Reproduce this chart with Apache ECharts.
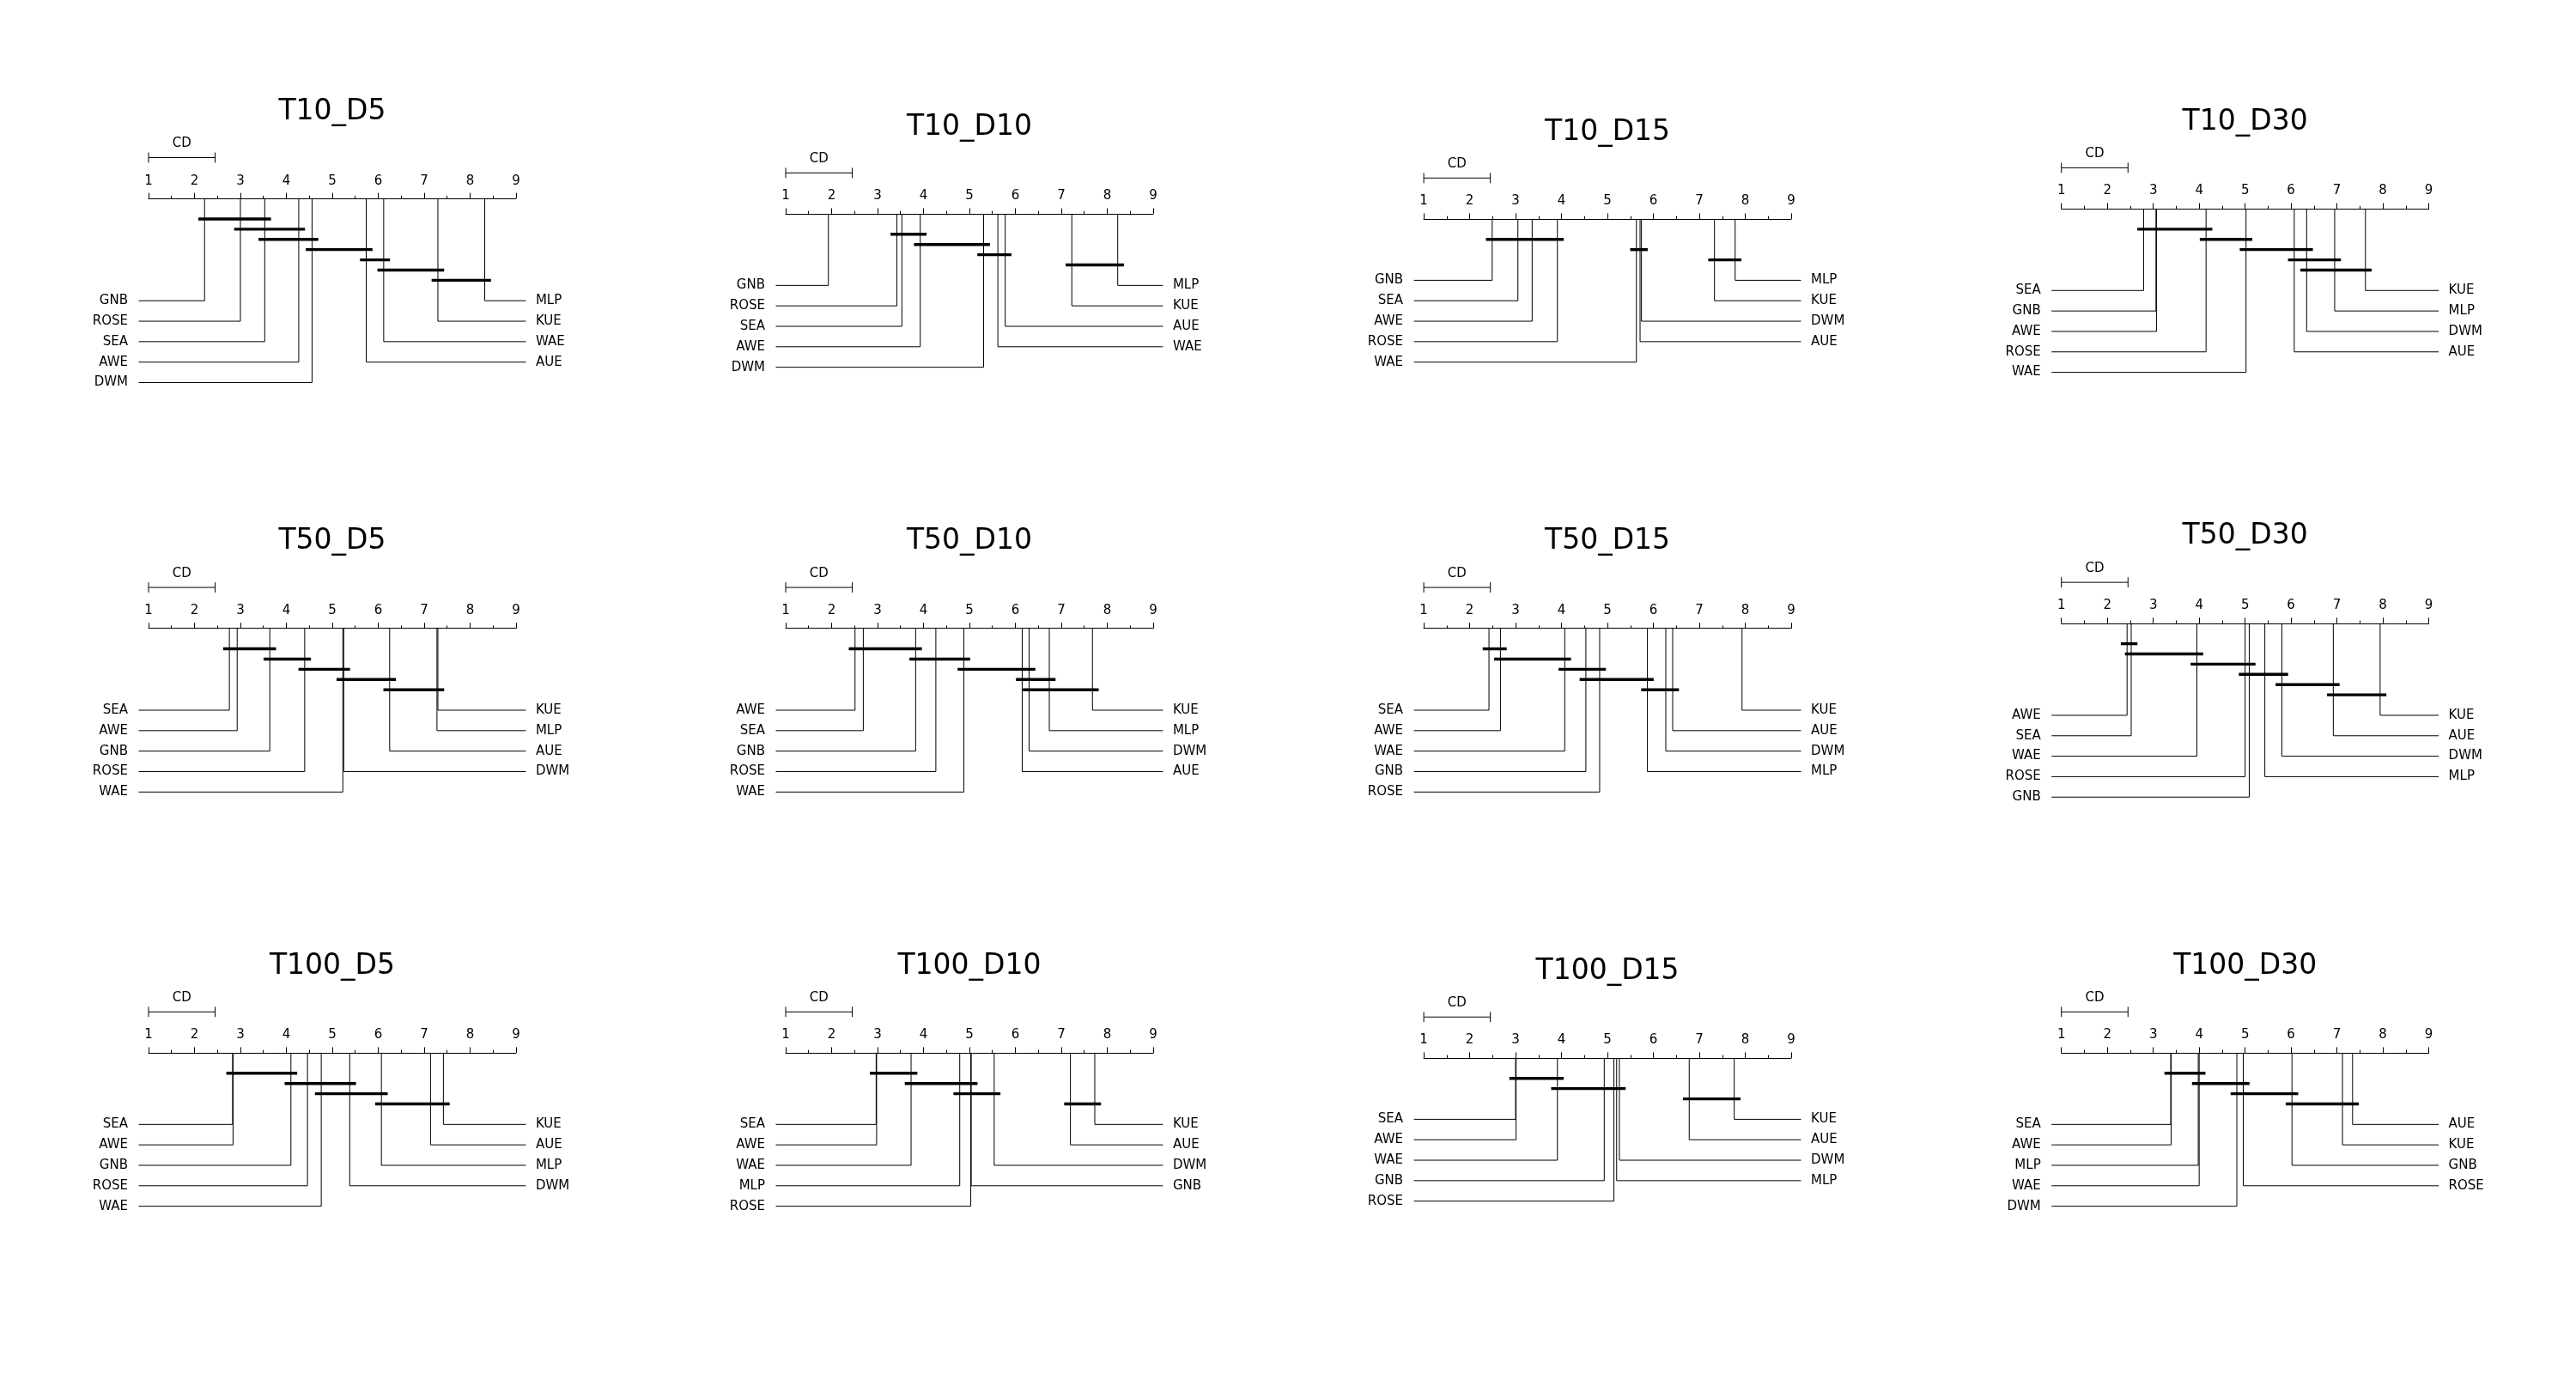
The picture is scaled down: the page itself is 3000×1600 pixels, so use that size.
<!DOCTYPE html>
<html>
<head>
<meta charset="utf-8">
<script src="https://cdn.jsdelivr.net/npm/echarts@6/dist/echarts.min.js"></script>
<style>
html,body{margin:0;padding:0;background:#ffffff;}
#chart{width:3000px;height:1600px;}
</style>
</head>
<body>
<div id="chart"></div>
<script>
// ---------- DATA ----------
const methods = ['AUE', 'AWE', 'DWM', 'GNB', 'KUE', 'MLP', 'ROSE', 'SEA', 'WAE'];
const panelTitles = ['T10_D5', 'T10_D10', 'T10_D15', 'T10_D30',
                     'T50_D5', 'T50_D10', 'T50_D15', 'T50_D30',
                     'T100_D5', 'T100_D10', 'T100_D15', 'T100_D30'];
const rankTicks = [1, 2, 3, 4, 5, 6, 7, 8, 9];
const criticalDifference = 1.45;

// average ranks, in the order of `methods`
const ranks_T10_D5   = [5.74, 4.27, 4.56, 2.22, 7.30, 8.32, 3.00, 3.53, 6.12];
const ranks_T10_D10  = [5.78, 3.93, 5.31, 1.93, 7.23, 8.23, 3.42, 3.53, 5.62];
const ranks_T10_D15  = [5.71, 3.36, 5.74, 2.49, 7.33, 7.78, 3.91, 3.05, 5.63];
const ranks_T10_D30  = [6.07, 3.07, 6.34, 3.06, 7.62, 6.95, 4.15, 2.79, 5.02];
const ranks_T50_D5   = [6.25, 2.93, 5.25, 3.64, 7.30, 7.28, 4.40, 2.76, 5.23];
const ranks_T50_D10  = [6.15, 2.51, 6.30, 3.83, 7.68, 6.74, 4.27, 2.69, 4.88];
const ranks_T50_D15  = [6.42, 2.67, 6.27, 4.53, 7.93, 5.87, 4.83, 2.42, 4.07];
const ranks_T50_D30  = [6.92, 2.43, 5.80, 5.09, 7.94, 5.43, 5.00, 2.52, 3.95];
const ranks_T100_D5  = [7.14, 2.84, 5.38, 4.10, 7.42, 6.07, 4.46, 2.83, 4.76];
const ranks_T100_D10 = [7.20, 2.98, 5.54, 5.04, 7.73, 4.79, 5.03, 2.97, 3.73];
const ranks_T100_D15 = [6.78, 3.01, 5.26, 4.93, 7.76, 5.20, 5.14, 3.00, 3.91];
const ranks_T100_D30 = [7.34, 3.39, 4.82, 6.02, 7.12, 3.98, 4.96, 3.38, 4.00];

// groups of methods not significantly different (from method, to method)
const cliques_T10_D5   = [['GNB','SEA'], ['ROSE','AWE'], ['SEA','DWM'], ['DWM','AUE'], ['AUE','WAE'], ['WAE','KUE'], ['KUE','MLP']];
const cliques_T10_D10  = [['ROSE','AWE'], ['AWE','DWM'], ['DWM','AUE'], ['KUE','MLP']];
const cliques_T10_D15  = [['GNB','ROSE'], ['WAE','DWM'], ['KUE','MLP']];
const cliques_T10_D30  = [['SEA','ROSE'], ['ROSE','WAE'], ['WAE','DWM'], ['AUE','MLP'], ['DWM','KUE']];
const cliques_T50_D5   = [['SEA','GNB'], ['GNB','ROSE'], ['ROSE','DWM'], ['WAE','AUE'], ['AUE','KUE']];
const cliques_T50_D10  = [['AWE','GNB'], ['GNB','WAE'], ['WAE','DWM'], ['AUE','MLP'], ['DWM','KUE']];
const cliques_T50_D15  = [['SEA','AWE'], ['AWE','WAE'], ['WAE','ROSE'], ['GNB','MLP'], ['MLP','AUE']];
const cliques_T50_D30  = [['AWE','SEA'], ['SEA','WAE'], ['WAE','GNB'], ['ROSE','DWM'], ['DWM','AUE'], ['AUE','KUE']];
const cliques_T100_D5  = [['SEA','GNB'], ['GNB','DWM'], ['WAE','MLP'], ['MLP','KUE']];
const cliques_T100_D10 = [['SEA','WAE'], ['WAE','GNB'], ['MLP','DWM'], ['AUE','KUE']];
const cliques_T100_D15 = [['SEA','WAE'], ['WAE','DWM'], ['AUE','KUE']];
const cliques_T100_D30 = [['SEA','WAE'], ['MLP','ROSE'], ['DWM','GNB'], ['GNB','AUE']];

const allRanks = [ranks_T10_D5, ranks_T10_D10, ranks_T10_D15, ranks_T10_D30,
                  ranks_T50_D5, ranks_T50_D10, ranks_T50_D15, ranks_T50_D30,
                  ranks_T100_D5, ranks_T100_D10, ranks_T100_D15, ranks_T100_D30];
const allCliques = [cliques_T10_D5, cliques_T10_D10, cliques_T10_D15, cliques_T10_D30,
                    cliques_T50_D5, cliques_T50_D10, cliques_T50_D15, cliques_T50_D30,
                    cliques_T100_D5, cliques_T100_D10, cliques_T100_D15, cliques_T100_D30];

// ---------- LAYOUT ----------
const colLeft = [173.0, 915.0, 1658.1, 2400.7];
const axisWidth = 427.9;
const rowCenter = [272.8, 761.5, 1249.8];
const UNIT = 119.1;           // pixels per vertical layout unit
const FONT = '"DejaVu Sans", "Liberation Sans", sans-serif';

const grids = [], xAxes = [], yAxes = [], titles = [], series = [];

panelTitles.forEach(function (title, p) {
  const r = Math.floor(p / 4), c = p % 4;
  const ranks = allRanks[p];
  const cliques = allCliques[p];
  const nLines = cliques.length;
  const axisY = rowCenter[r] - UNIT * 0.05 * nLines;
  const rowStart = Math.max(0.4, 0.4 + (nLines - 1) * 0.1);

  grids.push({left: colLeft[c], top: axisY, width: axisWidth, height: UNIT, containLabel: false});
  xAxes.push({
    gridIndex: p, type: 'value', position: 'top',
    min: rankTicks[0], max: rankTicks[rankTicks.length - 1], interval: 1,
    axisLine: {show: true, onZero: false, lineStyle: {color: '#000', width: 1}},
    axisTick: {show: true, length: 6.5, lineStyle: {color: '#000', width: 1}},
    minorTick: {show: true, splitNumber: 2, length: 3.3, lineStyle: {color: '#000', width: 1}},
    axisLabel: {margin: 13, color: '#000', fontSize: 15, fontFamily: FONT},
    splitLine: {show: false}, minorSplitLine: {show: false}
  });
  yAxes.push({gridIndex: p, type: 'value', min: 0, max: 1, inverse: true, show: false});

  const axisCenter = colLeft[c] + axisWidth / 2;
  titles.push({
    text: title, left: axisCenter, top: axisY - 101,
    textAlign: 'center', textVerticalAlign: 'middle', padding: 0,
    textStyle: {fontSize: 33, fontWeight: 'normal', color: '#000', fontFamily: FONT}
  });

  // sort methods by rank
  const order = methods.map(function (m, i) { return {name: m, rank: ranks[i]}; })
    .sort(function (a, b) { return a.rank - b.rank; });
  const k = order.length;
  const half = Math.ceil(k / 2);
  const items = order.map(function (o, i) {
    const left = i < half;
    const row = left ? i : (k - i - 1);
    return {name: o.name, value: [o.rank, rowStart + row * 0.2, left ? 0 : 1]};
  });

  series.push({
    type: 'custom', xAxisIndex: p, yAxisIndex: p, clip: false, silent: true,
    data: items,
    renderItem: function (params, api) {
      const rank = api.value(0), yv = api.value(1), side = api.value(2);
      const name = items[params.dataIndex].name;
      const top = api.coord([rank, 0]);
      const bot = api.coord([rank, yv]);
      const edge = side === 0 ? api.coord([1, 0])[0] - 11.5 : api.coord([9, 0])[0] + 11.5;
      const tx = side === 0 ? edge - 12.5 : edge + 11.5;
      return {
        type: 'group',
        children: [
          {type: 'polyline', shape: {points: [[top[0], top[1]], [bot[0], bot[1]], [edge, bot[1]]]},
           style: {stroke: '#000', lineWidth: 1, fill: null}},
          {type: 'text', x: tx, y: bot[1],
           style: {text: name, fill: '#000', font: '15px ' + FONT,
                   align: side === 0 ? 'right' : 'left', verticalAlign: 'middle'}}
        ]
      };
    }
  });

  // clique bars
  const cliqueData = cliques.map(function (cq, i) {
    const a = ranks[methods.indexOf(cq[0])], b = ranks[methods.indexOf(cq[1])];
    return [Math.min(a, b), Math.max(a, b), 0.2 + 0.1 * i];
  });
  series.push({
    type: 'custom', xAxisIndex: p, yAxisIndex: p, clip: false, silent: true,
    data: cliqueData,
    encode: {x: [0, 1], y: 2},
    renderItem: function (params, api) {
      const a = api.coord([api.value(0), api.value(2)]);
      const b = api.coord([api.value(1), api.value(2)]);
      return {type: 'line', shape: {x1: a[0] - 7.3, y1: a[1], x2: b[0] + 7.3, y2: b[1]},
              style: {stroke: '#000', lineWidth: 3.4}};
    }
  });

  // CD scale bar
  series.push({
    type: 'custom', xAxisIndex: p, yAxisIndex: p, clip: false, silent: true,
    data: [[rankTicks[0], rankTicks[0] + criticalDifference, -0.4]],
    encode: {x: [0, 1], y: 2},
    renderItem: function (params, api) {
      const y = api.value(2);
      const a = api.coord([api.value(0), y]);
      const b = api.coord([api.value(1), y]);
      const h = UNIT * 0.05;
      const st = {stroke: '#000', lineWidth: 1};
      return {
        type: 'group',
        children: [
          {type: 'line', shape: {x1: a[0], y1: a[1], x2: b[0], y2: b[1]}, style: st},
          {type: 'line', shape: {x1: a[0], y1: a[1] - h, x2: a[0], y2: a[1] + h}, style: st},
          {type: 'line', shape: {x1: b[0], y1: b[1] - h, x2: b[0], y2: b[1] + h}, style: st},
          {type: 'text', x: (a[0] + b[0]) / 2, y: a[1] - 16,
           style: {text: 'CD', fill: '#000', font: '15px ' + FONT, align: 'center', verticalAlign: 'middle'}}
        ]
      };
    }
  });
});

const chart = echarts.init(document.getElementById('chart'), null, {renderer: 'canvas'});
chart.setOption({
  backgroundColor: '#ffffff',
  animation: false,
  title: titles,
  grid: grids,
  xAxis: xAxes,
  yAxis: yAxes,
  series: series
});
</script>
</body>
</html>
